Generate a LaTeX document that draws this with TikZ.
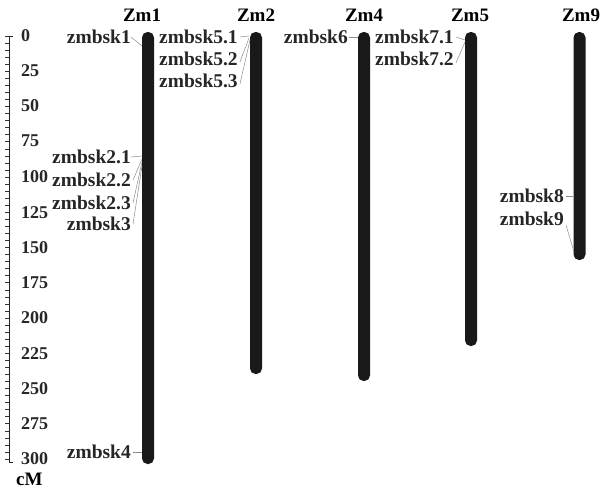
\documentclass[tikz,border=0pt]{standalone}
\usepackage{fontspec}
\setmainfont{Liberation Serif}
\begin{document}
\begin{tikzpicture}[x=1pt,y=-1pt,
  chrom/.style={draw=none,fill=black!90,rounded corners=5.5pt,minimum width=12pt,inner sep=0pt},
  ttl/.style={font=\fontsize{19}{19}\selectfont\bfseries,inner sep=0pt},
  mk/.style={font=\fontsize{19.5}{19.5}\selectfont\bfseries,inner sep=0pt,text=black!85},
  num/.style={font=\fontsize{18}{18}\selectfont\bfseries,inner sep=0pt,anchor=west,text=black!85},
  lead/.style={draw=black!45,line width=0.5pt},
  axisline/.style={draw=black!85,line width=1pt}]
\useasboundingbox (0,0) rectangle (611,491);
% chromosomes
\node[chrom,minimum height=432pt] (c1) at (148,248) {};
\node[chrom,minimum height=342pt] (c2) at (256,203) {};
\node[chrom,minimum height=349pt] (c4) at (364,206.5) {};
\node[chrom,minimum height=314pt] (c5) at (471,189) {};
\node[chrom,minimum height=228pt] (c9) at (579.5,146) {};
% titles
\node[ttl] (t1) at (142,15) {Zm1};
\node[ttl] (t2) at (256,15) {Zm2};
\node[ttl] (t4) at (364,15) {Zm4};
\node[ttl] (t5) at (470,15) {Zm5};
\node[ttl] (t9) at (581,15) {Zm9};
% scale
\coordinate (s0) at (9,36);
\coordinate (s1) at (9,462);
\draw[axisline] (13,36) -- (s0) -- (s1) -- (13,462);
\foreach \i in {0,...,60} {\draw[black!80,line width=0.6pt] (9,36+\i*7.05) -- (5,36+\i*7.05);}
\foreach \v/\y in {0/36,25/71,50/106,75/141,100/177,125/213,150/248,175/283,200/318,225/354,250/389,275/424,300/459}
  {\node[num] (n\v) at (21,\y) {\v};}
\node[ttl,anchor=west] (cm) at (16,479) {cM};
% markers Zm1
\node[mk,anchor=east] (m1) at (131,37) {zmbsk1};
\coordinate (p1) at (142,46);
\draw[lead] (m1.east) -- (p1);
\node[mk,anchor=east] (m21) at (131,157) {zmbsk2.1};
\node[mk,anchor=east] (m22) at (131,180) {zmbsk2.2};
\node[mk,anchor=east] (m23) at (131,203) {zmbsk2.3};
\node[mk,anchor=east] (m3) at (131,224) {zmbsk3};
\coordinate (p21) at (142,156);
\coordinate (p22) at (142,159);
\coordinate (p23) at (142,162);
\coordinate (p3) at (142,166);
\draw[lead] (m21.east) -- (p21);
\draw[lead] ([xshift=2pt]m22.east) -- (p22);
\draw[lead] ([xshift=2pt]m23.east) -- (p23);
\draw[lead] ([xshift=2pt]m3.east) -- (p3);
\node[mk,anchor=east] (m4) at (131,452) {zmbsk4};
\coordinate (p4) at (142,452);
\draw[lead] ([xshift=2pt]m4.east) -- (p4);
% markers Zm2
\node[mk,anchor=west] (m51) at (159,37) {zmbsk5.1};
\node[mk,anchor=west] (m52) at (159,59) {zmbsk5.2};
\node[mk,anchor=west] (m53) at (159,81) {zmbsk5.3};
\coordinate (p51) at (249,36);
\coordinate (p52) at (249,38);
\coordinate (p53) at (250,40);
\draw[lead] ([xshift=2pt]m51.east) -- (p51);
\draw[lead] ([xshift=2pt,yshift=-3pt]m52.east) -- (p52);
\draw[lead] ([xshift=2pt,yshift=-3pt]m53.east) -- (p53);
% Zm4
\node[mk,anchor=east] (m6) at (348,37) {zmbsk6};
\coordinate (p6) at (358,37);
\draw[lead] ([xshift=1pt]m6.east) -- (p6);
% Zm5
\node[mk,anchor=west] (m71) at (375,37) {zmbsk7.1};
\node[mk,anchor=west] (m72) at (375,59) {zmbsk7.2};
\coordinate (p71) at (465,40);
\coordinate (p72) at (465,42);
\draw[lead] ([xshift=2pt]m71.east) -- (p71);
\draw[lead] ([xshift=2pt,yshift=-4pt]m72.east) -- (p72);
% Zm9
\node[mk,anchor=east] (m8) at (564,196) {zmbsk8};
\node[mk,anchor=east] (m9) at (564,219) {zmbsk9};
\coordinate (p8) at (573,196);
\coordinate (p9) at (574,252);
\draw[lead] ([xshift=2pt]m8.east) -- (p8);
\draw[lead] ([xshift=2pt,yshift=-6pt]m9.east) -- (p9);
\end{tikzpicture}
\end{document}
